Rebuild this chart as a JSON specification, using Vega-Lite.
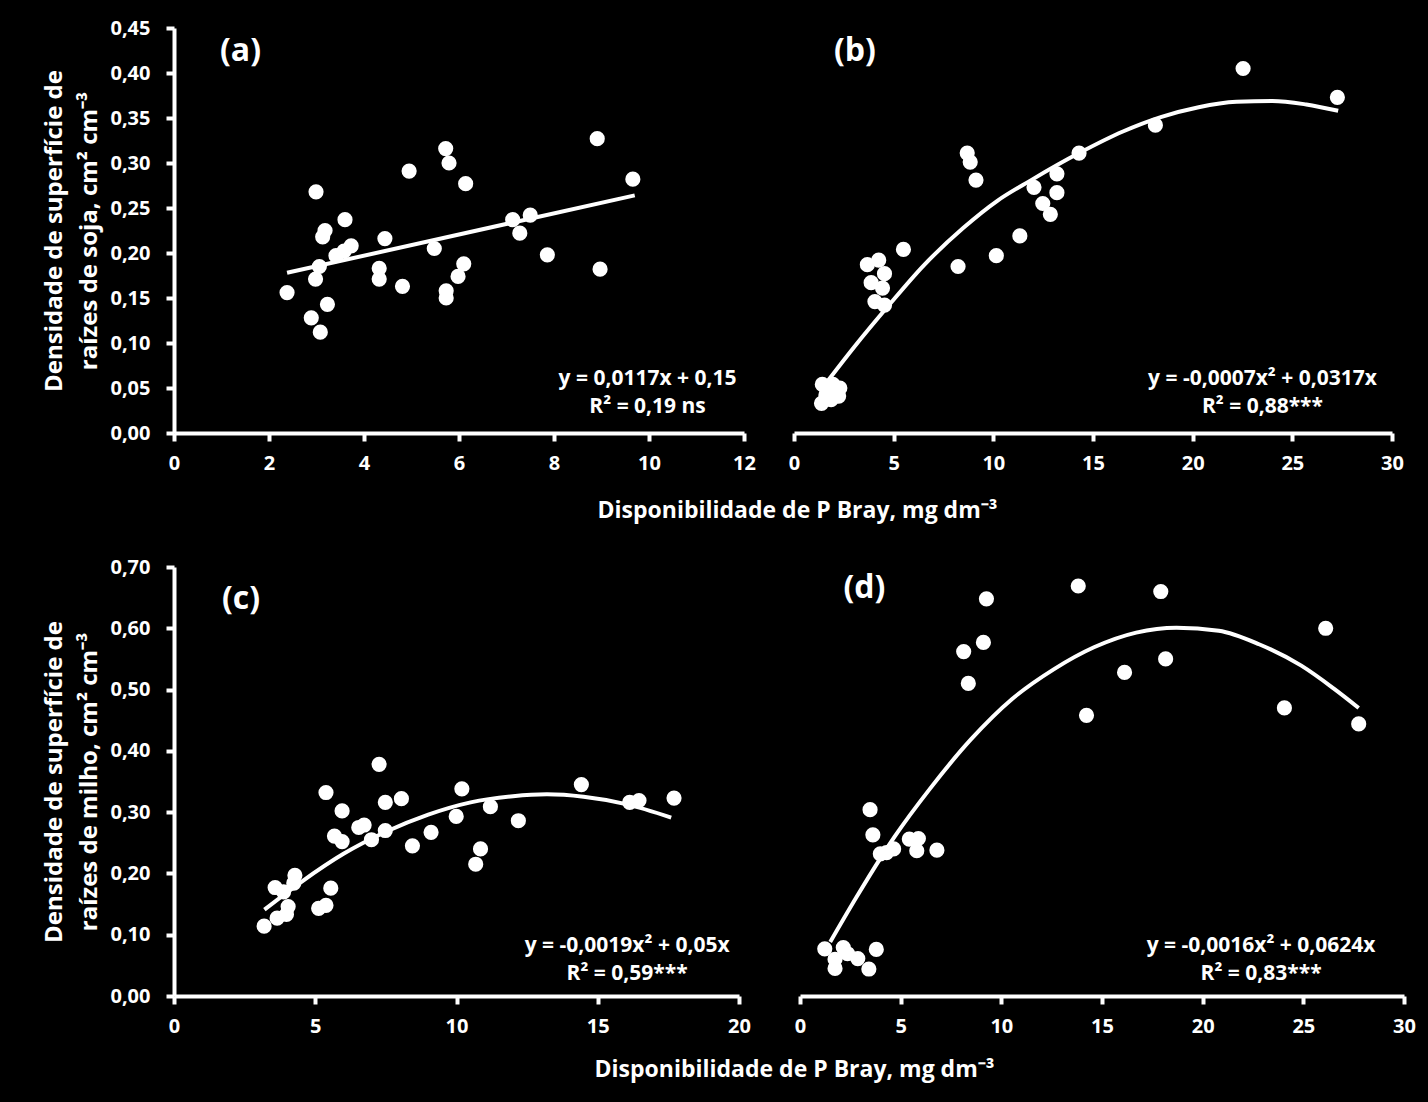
{
  "$schema": "https://vega.github.io/schema/vega-lite/v6.json",
  "background": "black",
  "padding": {"left": 42, "top": 18, "right": 12, "bottom": 24},
  "spacing": 35,
  "datasets": {
    "a_pts": [
      {"x": 8.91, "y": 0.327}, {"x": 9.66, "y": 0.282}, {"x": 5.72, "y": 0.316}, {"x": 5.79, "y": 0.300},
      {"x": 4.95, "y": 0.291}, {"x": 6.14, "y": 0.277}, {"x": 2.99, "y": 0.268}, {"x": 3.60, "y": 0.237},
      {"x": 3.18, "y": 0.225}, {"x": 3.13, "y": 0.218}, {"x": 3.73, "y": 0.208}, {"x": 4.44, "y": 0.216},
      {"x": 7.13, "y": 0.237}, {"x": 7.50, "y": 0.242}, {"x": 7.28, "y": 0.222}, {"x": 5.48, "y": 0.205},
      {"x": 3.41, "y": 0.197}, {"x": 3.06, "y": 0.185}, {"x": 7.86, "y": 0.198}, {"x": 6.10, "y": 0.188},
      {"x": 5.98, "y": 0.174}, {"x": 4.32, "y": 0.183}, {"x": 4.32, "y": 0.171}, {"x": 2.98, "y": 0.171},
      {"x": 8.97, "y": 0.182}, {"x": 4.81, "y": 0.163}, {"x": 2.38, "y": 0.156}, {"x": 5.73, "y": 0.158},
      {"x": 5.73, "y": 0.150}, {"x": 3.23, "y": 0.143}, {"x": 2.89, "y": 0.128}, {"x": 3.08, "y": 0.112},
      {"x": 3.58, "y": 0.202}
    ],
    "a_fit": [{"x": 2.38, "y": 0.178}, {"x": 9.70, "y": 0.264}],
    "b_pts": [
      {"x": 22.53, "y": 0.405}, {"x": 27.26, "y": 0.373}, {"x": 18.13, "y": 0.342}, {"x": 14.30, "y": 0.311},
      {"x": 8.69, "y": 0.311}, {"x": 8.84, "y": 0.301}, {"x": 9.13, "y": 0.281}, {"x": 13.19, "y": 0.288},
      {"x": 12.04, "y": 0.273}, {"x": 13.19, "y": 0.267}, {"x": 12.48, "y": 0.255}, {"x": 12.86, "y": 0.243},
      {"x": 11.33, "y": 0.219}, {"x": 10.15, "y": 0.197}, {"x": 8.23, "y": 0.185}, {"x": 5.49, "y": 0.204},
      {"x": 4.25, "y": 0.192}, {"x": 3.68, "y": 0.187}, {"x": 4.54, "y": 0.177}, {"x": 3.87, "y": 0.167},
      {"x": 4.44, "y": 0.161}, {"x": 4.06, "y": 0.146}, {"x": 4.54, "y": 0.142},
      {"x": 1.42, "y": 0.054}, {"x": 1.70, "y": 0.050}, {"x": 1.95, "y": 0.054}, {"x": 2.30, "y": 0.050},
      {"x": 1.38, "y": 0.033}, {"x": 1.86, "y": 0.037}, {"x": 2.24, "y": 0.041}, {"x": 1.60, "y": 0.042}
    ],
    "b_fit": [
      {"x": 1.7, "y": 0.058}, {"x": 3.0, "y": 0.095}, {"x": 4.8, "y": 0.143}, {"x": 6.5, "y": 0.186},
      {"x": 8.5, "y": 0.228}, {"x": 10.2, "y": 0.258}, {"x": 11.9, "y": 0.281}, {"x": 14.3, "y": 0.311},
      {"x": 16.5, "y": 0.335}, {"x": 18.4, "y": 0.351}, {"x": 20.3, "y": 0.362}, {"x": 22.2, "y": 0.368},
      {"x": 24.0, "y": 0.369}, {"x": 25.7, "y": 0.365}, {"x": 27.3, "y": 0.358}
    ],
    "c_pts": [
      {"x": 7.26, "y": 0.378}, {"x": 5.38, "y": 0.332}, {"x": 10.19, "y": 0.338}, {"x": 14.42, "y": 0.345},
      {"x": 16.13, "y": 0.316}, {"x": 16.46, "y": 0.319}, {"x": 17.70, "y": 0.323}, {"x": 7.48, "y": 0.316},
      {"x": 8.05, "y": 0.322}, {"x": 5.95, "y": 0.302}, {"x": 11.20, "y": 0.309}, {"x": 9.99, "y": 0.293},
      {"x": 12.19, "y": 0.286}, {"x": 9.10, "y": 0.267}, {"x": 8.44, "y": 0.245}, {"x": 5.68, "y": 0.261},
      {"x": 5.95, "y": 0.252}, {"x": 6.54, "y": 0.275}, {"x": 6.73, "y": 0.279}, {"x": 6.99, "y": 0.255},
      {"x": 7.48, "y": 0.270}, {"x": 10.85, "y": 0.240}, {"x": 10.68, "y": 0.215}, {"x": 4.28, "y": 0.197},
      {"x": 4.24, "y": 0.184}, {"x": 3.58, "y": 0.177}, {"x": 3.88, "y": 0.170}, {"x": 5.55, "y": 0.176},
      {"x": 5.38, "y": 0.148}, {"x": 5.12, "y": 0.143}, {"x": 4.04, "y": 0.146}, {"x": 3.98, "y": 0.133},
      {"x": 3.65, "y": 0.127}, {"x": 3.19, "y": 0.114}
    ],
    "c_fit": [
      {"x": 3.2, "y": 0.141}, {"x": 4.5, "y": 0.186}, {"x": 6.0, "y": 0.232}, {"x": 7.5, "y": 0.268},
      {"x": 9.0, "y": 0.296}, {"x": 10.5, "y": 0.316}, {"x": 12.0, "y": 0.326}, {"x": 13.2, "y": 0.329},
      {"x": 14.5, "y": 0.325}, {"x": 16.0, "y": 0.313}, {"x": 17.6, "y": 0.291}
    ],
    "d_pts": [
      {"x": 13.82, "y": 0.669}, {"x": 17.92, "y": 0.660}, {"x": 9.26, "y": 0.648}, {"x": 26.11, "y": 0.600},
      {"x": 9.11, "y": 0.577}, {"x": 8.13, "y": 0.562}, {"x": 18.16, "y": 0.550}, {"x": 16.12, "y": 0.528},
      {"x": 8.36, "y": 0.510}, {"x": 14.23, "y": 0.458}, {"x": 24.06, "y": 0.470}, {"x": 27.75, "y": 0.444},
      {"x": 3.48, "y": 0.304}, {"x": 3.62, "y": 0.263}, {"x": 5.43, "y": 0.256}, {"x": 5.88, "y": 0.257},
      {"x": 5.80, "y": 0.237}, {"x": 6.80, "y": 0.238}, {"x": 3.99, "y": 0.232}, {"x": 4.65, "y": 0.240},
      {"x": 4.30, "y": 0.234}, {"x": 1.23, "y": 0.077}, {"x": 2.15, "y": 0.079}, {"x": 1.74, "y": 0.060},
      {"x": 1.74, "y": 0.045}, {"x": 2.87, "y": 0.061}, {"x": 3.42, "y": 0.044}, {"x": 3.79, "y": 0.076},
      {"x": 2.36, "y": 0.069}
    ],
    "d_fit": [
      {"x": 1.5, "y": 0.088}, {"x": 2.8, "y": 0.161}, {"x": 4.0, "y": 0.225}, {"x": 4.7, "y": 0.260},
      {"x": 6.45, "y": 0.338}, {"x": 8.5, "y": 0.419}, {"x": 10.55, "y": 0.485}, {"x": 12.6, "y": 0.533},
      {"x": 14.6, "y": 0.569}, {"x": 16.7, "y": 0.593}, {"x": 18.7, "y": 0.601}, {"x": 20.8, "y": 0.596},
      {"x": 22.8, "y": 0.574}, {"x": 24.9, "y": 0.539}, {"x": 26.5, "y": 0.502}, {"x": 27.75, "y": 0.470}
    ]
  },
  "vconcat": [
    {
      "bounds": "flush",
      "spacing": 50,
      "hconcat": [
        {
          "width": 570,
          "height": 405,
          "layer": [
            {
              "data": {"name": "a_pts"},
              "mark": {"type": "circle", "size": 230, "color": "white", "opacity": 1},
              "encoding": {
                "x": {"field": "x", "type": "quantitative", "scale": {"domain": [0, 12], "nice": false, "zero": false},
                  "axis": {"values": [0, 2, 4, 6, 8, 10, 12], "title": "Disponibilidade de P Bray, mg dm⁻³", "titleX": 623, "titleY": 84, "titleAlign": "center", "titleBaseline": "alphabetic", "titleFontSize": 23}},
                "y": {"field": "y", "type": "quantitative", "scale": {"domain": [0, 0.45], "nice": false},
                  "axis": {"values": [0, 0.05, 0.1, 0.15, 0.2, 0.25, 0.3, 0.35, 0.4, 0.45], "labelExpr": "replace(format(datum.value, '.2f'), '.', ',')", "labelPadding": 16, "title": ["Densidade de superfície de", "raízes de soja, cm² cm⁻³"], "titleLineHeight": 35, "titlePadding": 8}}
              }
            },
            {
              "data": {"name": "a_fit"},
              "mark": {"type": "line", "color": "white", "strokeWidth": 4},
              "encoding": {"x": {"field": "x", "type": "quantitative"}, "y": {"field": "y", "type": "quantitative"}}
            },
            {
              "data": {"values": [{}]},
              "mark": {"type": "text", "text": "(a)", "fontSize": 32, "fontWeight": "bold", "color": "white", "align": "center", "baseline": "middle"},
              "encoding": {"x": {"datum": 1.4}, "y": {"datum": 0.425}}
            },
            {
              "data": {"values": [{}]},
              "mark": {"type": "text", "text": ["y = 0,0117x + 0,15", "R² = 0,19 ns"], "fontSize": 21, "lineHeight": 28, "fontWeight": "bold", "color": "white", "align": "center", "baseline": "middle"},
              "encoding": {"x": {"datum": 9.97}, "y": {"datum": 0.060}}
            }
          ]
        },
        {
          "width": 598,
          "height": 405,
          "layer": [
            {
              "data": {"name": "b_pts"},
              "mark": {"type": "circle", "size": 230, "color": "white", "opacity": 1},
              "encoding": {
                "x": {"field": "x", "type": "quantitative", "scale": {"domain": [0, 30], "nice": false}, "axis": {"values": [0, 5, 10, 15, 20, 25, 30], "title": null}},
                "y": {"field": "y", "type": "quantitative", "scale": {"domain": [0, 0.45], "nice": false}, "axis": null}
              }
            },
            {
              "data": {"name": "b_fit"},
              "mark": {"type": "line", "color": "white", "strokeWidth": 4, "interpolate": "monotone"},
              "encoding": {"x": {"field": "x", "type": "quantitative"}, "y": {"field": "y", "type": "quantitative"}}
            },
            {
              "data": {"values": [{}]},
              "mark": {"type": "text", "text": "(b)", "fontSize": 32, "fontWeight": "bold", "color": "white", "align": "center", "baseline": "middle"},
              "encoding": {"x": {"datum": 3.06}, "y": {"datum": 0.425}}
            },
            {
              "data": {"values": [{}]},
              "mark": {"type": "text", "text": ["y = -0,0007x² + 0,0317x", "R² = 0,88***"], "fontSize": 21, "lineHeight": 28, "fontWeight": "bold", "color": "white", "align": "center", "baseline": "middle"},
              "encoding": {"x": {"datum": 23.5}, "y": {"datum": 0.060}}
            }
          ]
        }
      ]
    },
    {
      "bounds": "flush",
      "spacing": 61,
      "hconcat": [
        {
          "width": 565,
          "height": 429,
          "layer": [
            {
              "data": {"name": "c_pts"},
              "mark": {"type": "circle", "size": 230, "color": "white", "opacity": 1},
              "encoding": {
                "x": {"field": "x", "type": "quantitative", "scale": {"domain": [0, 20], "nice": false},
                  "axis": {"values": [0, 5, 10, 15, 20], "title": "Disponibilidade de P Bray, mg dm⁻³", "titleX": 620, "titleY": 80, "titleAlign": "center", "titleBaseline": "alphabetic", "titleFontSize": 23}},
                "y": {"field": "y", "type": "quantitative", "scale": {"domain": [0, 0.7], "nice": false},
                  "axis": {"values": [0, 0.1, 0.2, 0.3, 0.4, 0.5, 0.6, 0.7], "labelExpr": "replace(format(datum.value, '.2f'), '.', ',')", "labelPadding": 16, "title": ["Densidade de superfície de", "raízes de milho, cm² cm⁻³"], "titleLineHeight": 35, "titlePadding": 8}}
              }
            },
            {
              "data": {"name": "c_fit"},
              "mark": {"type": "line", "color": "white", "strokeWidth": 4, "interpolate": "monotone"},
              "encoding": {"x": {"field": "x", "type": "quantitative"}, "y": {"field": "y", "type": "quantitative"}}
            },
            {
              "data": {"values": [{}]},
              "mark": {"type": "text", "text": "(c)", "fontSize": 32, "fontWeight": "bold", "color": "white", "align": "center", "baseline": "middle"},
              "encoding": {"x": {"datum": 2.37}, "y": {"datum": 0.648}}
            },
            {
              "data": {"values": [{}]},
              "mark": {"type": "text", "text": ["y = -0,0019x² + 0,05x", "R² = 0,59***"], "fontSize": 21, "lineHeight": 28, "fontWeight": "bold", "color": "white", "align": "center", "baseline": "middle"},
              "encoding": {"x": {"datum": 16.04}, "y": {"datum": 0.082}}
            }
          ]
        },
        {
          "width": 604,
          "height": 429,
          "layer": [
            {
              "data": {"name": "d_pts"},
              "mark": {"type": "circle", "size": 230, "color": "white", "opacity": 1},
              "encoding": {
                "x": {"field": "x", "type": "quantitative", "scale": {"domain": [0, 30], "nice": false}, "axis": {"values": [0, 5, 10, 15, 20, 25, 30], "title": null}},
                "y": {"field": "y", "type": "quantitative", "scale": {"domain": [0, 0.7], "nice": false}, "axis": null}
              }
            },
            {
              "data": {"name": "d_fit"},
              "mark": {"type": "line", "color": "white", "strokeWidth": 4, "interpolate": "monotone"},
              "encoding": {"x": {"field": "x", "type": "quantitative"}, "y": {"field": "y", "type": "quantitative"}}
            },
            {
              "data": {"values": [{}]},
              "mark": {"type": "text", "text": "(d)", "fontSize": 32, "fontWeight": "bold", "color": "white", "align": "center", "baseline": "middle"},
              "encoding": {"x": {"datum": 3.2}, "y": {"datum": 0.665}}
            },
            {
              "data": {"values": [{}]},
              "mark": {"type": "text", "text": ["y = -0,0016x² + 0,0624x", "R² = 0,83***"], "fontSize": 21, "lineHeight": 28, "fontWeight": "bold", "color": "white", "align": "center", "baseline": "middle"},
              "encoding": {"x": {"datum": 22.9}, "y": {"datum": 0.082}}
            }
          ]
        }
      ]
    }
  ],
  "config": {
    "view": {"stroke": null},
    "font": "Open Sans",
    "axis": {
      "grid": false,
      "domainColor": "white",
      "domainWidth": 4,
      "tickColor": "white",
      "tickWidth": 4,
      "tickSize": 8,
      "labelColor": "white",
      "labelFont": "Open Sans",
      "labelFontWeight": "bold",
      "labelFontSize": 20,
      "labelPadding": 12,
      "labelFlush": false,
      "labelOverlap": false,
      "titleColor": "white",
      "titleFont": "Open Sans",
      "titleFontWeight": "bold",
      "titleFontSize": 24
    },
    "text": {"font": "Open Sans"}
  }
}
